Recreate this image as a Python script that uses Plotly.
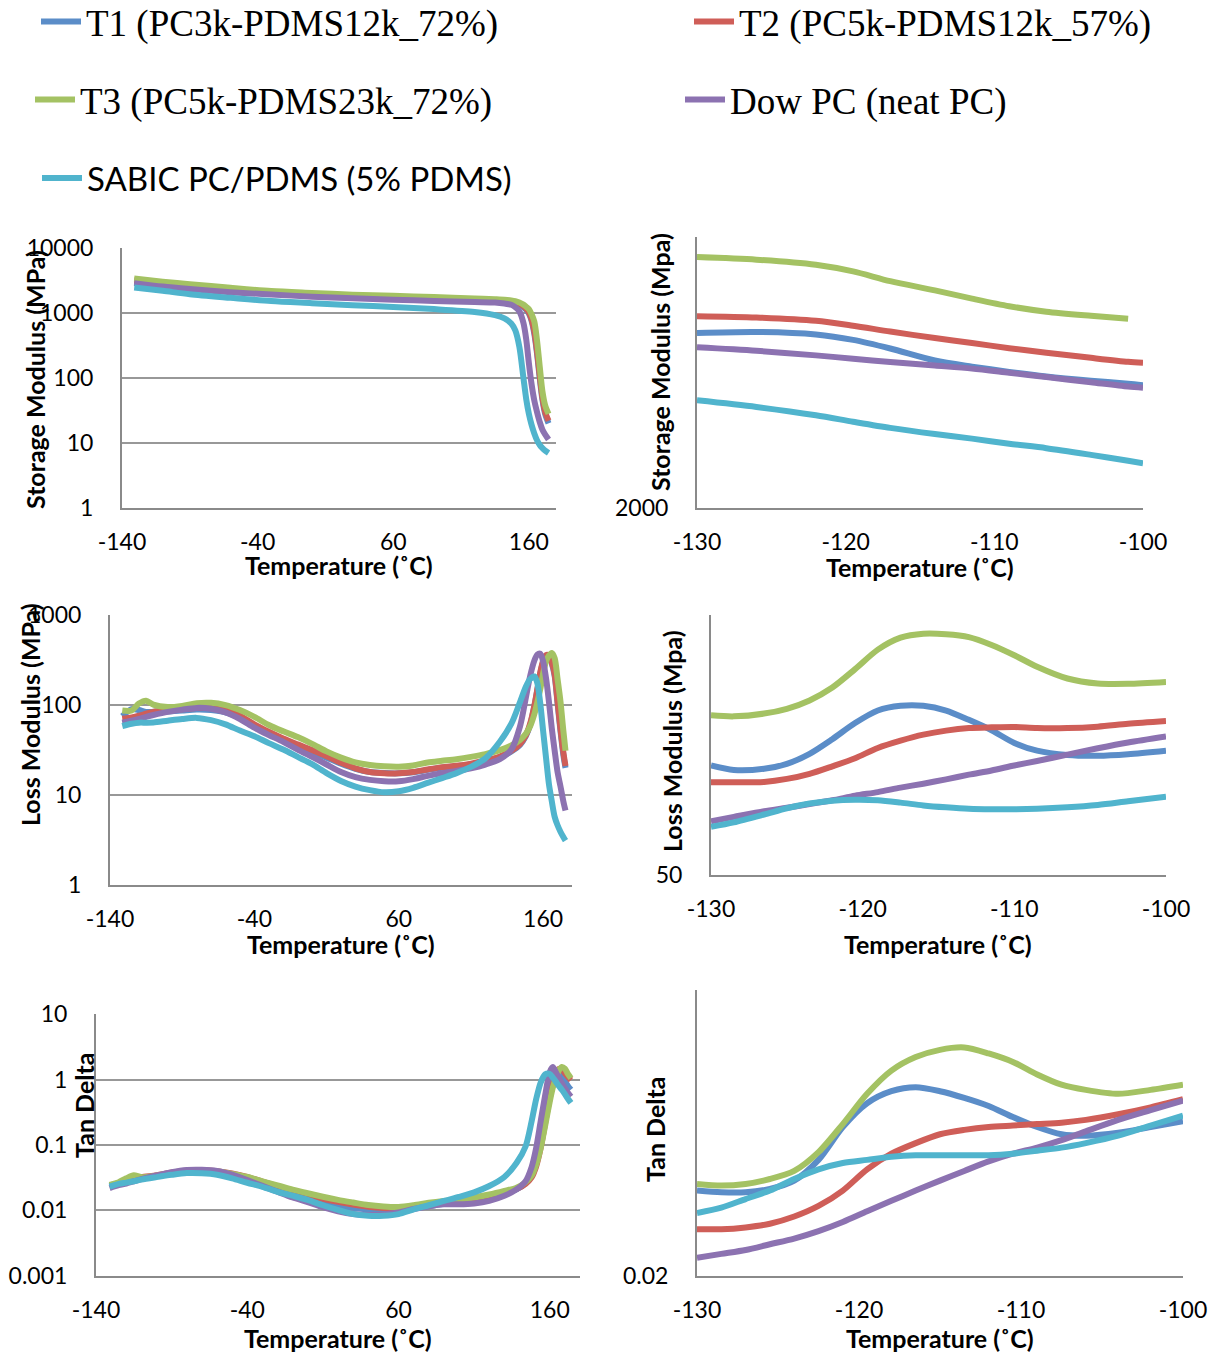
import plotly.graph_objects as go

# ---------------- samples ----------------
SAMPLE_NAMES = [
    "T1 (PC3k-PDMS12k_72%)",
    "T2 (PC5k-PDMS12k_57%)",
    "T3 (PC5k-PDMS23k_72%)",
    "Dow PC (neat PC)",
    "SABIC PC/PDMS (5% PDMS)",
]
SAMPLE_COLORS = ["#5B8DC8", "#CF5E58", "#A4C263", "#8C72B1", "#50B4CD"]
SAMPLE_LEGENDS = ["legend", "legend2", "legend3", "legend4", "legend5"]

# ---------------- storage modulus, full range (MPa) ----------------
storage_temp = [-131, -110, -90, -60, -30, 0, 30, 60, 90, 120, 135, 142, 147, 150,
                153, 156, 158, 160, 162, 164, 166, 168, 170, 172, 174.5]
storage_T1 = [3050, 2740, 2500, 2200, 1980, 1860, 1760, 1690, 1620, 1550, 1510, 1490, 1450, 1410,
              1340, 1230, 1120, 980, 760, 480, 240, 100, 46, 28, 20]
storage_T2 = [3200, 2880, 2650, 2350, 2100, 1960, 1850, 1770, 1690, 1610, 1570, 1540, 1500, 1460,
              1390, 1280, 1170, 1030, 800, 520, 260, 110, 50, 30, 22]
storage_T3 = [3400, 3050, 2790, 2450, 2180, 2040, 1920, 1840, 1760, 1680, 1630, 1600, 1560, 1520,
              1450, 1350, 1250, 1150, 960, 740, 380, 150, 62, 38, 28]
storage_dow = [2890, 2560, 2350, 2100, 1930, 1790, 1690, 1610, 1540, 1480, 1450, 1400, 1340, 1230,
               1060, 700, 400, 170, 80, 45, 30, 21, 16, 13.5, 11.3]
storage_sabic = [2470, 2200, 1950, 1720, 1530, 1420, 1320, 1240, 1150, 1040, 930, 830, 690, 540,
                 300, 100, 48, 28, 19, 14, 11, 9.3, 8.3, 7.6, 7.0]

# ---------------- storage modulus, -130..-100 C (MPa) ----------------
storage_zoom_temp = [-130, -126, -122, -119.5, -117, -114, -111.5, -109, -106.5, -103.5, -101, -100]
storage_zoom_T1 = [2871, 2877, 2862, 2830, 2780, 2712, 2678, 2649, 2624, 2601, 2585, 2577]
storage_zoom_T2 = [2972, 2964, 2944, 2914, 2879, 2841, 2812, 2782, 2756, 2727, 2705, 2700]
storage_zoom_T3 = [3358, 3340, 3305, 3260, 3195, 3135, 3082, 3034, 3000, 2975, 2957, None]
storage_zoom_dow = [2787, 2767, 2741, 2722, 2704, 2684, 2667, 2644, 2621, 2593, 2570, 2564]
storage_zoom_sabic = [2498, 2464, 2422, 2390, 2360, 2330, 2308, 2284, 2263, 2232, 2205, 2194]

# ---------------- loss modulus, full range (MPa) ----------------
loss_temp = [-131.5, -125, -120, -115, -110, -100, -90, -80, -70, -60, -50, -40, -30, -20, -10,
             0, 10, 20, 30, 40, 50, 60, 70, 80, 90, 100, 110, 120, 130, 138, 144, 148, 151,
             154, 156, 158, 160, 162, 164, 166, 168, 170, 172, 174, 175.5]
loss_T1 = [75, 90, 88, 84, 84, 85, 87, 89, 88, 83, 72, 58, 49, 41, 35,
           30, 26, 22.2, 19.5, 18, 17.5, 17.4, 17.9, 19, 20.1, 20.9, 21.8, 23.5, 26.3, 30.5, 36, 45, 60,
           98, 148, 225, 300, 350, 345, 290, 210, 105, 52, 28, 20]
loss_T2 = [70.5, 73, 76, 80, 84, 87, 90, 93, 93, 87, 76, 61, 50.5, 42.5, 36.5,
           31.5, 27, 22.8, 19.8, 18, 17.4, 17.4, 18, 19.2, 20.4, 21.1, 22.3, 24.2, 26.8, 31, 37, 46, 62,
           100, 150, 230, 310, 360, 355, 300, 217, 110, 55, 30, 21]
loss_T3 = [87, 87, 104, 112, 101, 95, 98, 105, 106, 100, 88, 74, 60, 51, 44,
           37, 30.5, 26, 23, 21.5, 20.8, 20.6, 21.3, 23, 24, 25, 26.5, 28.5, 31.5, 35.5, 41, 48, 58,
           80, 108, 150, 225, 305, 355, 380, 332, 195, 110, 52, 31]
loss_dow = [63.7, 67, 70, 74, 77.5, 84, 89, 93, 91, 83, 70, 56, 46.5, 39, 32,
            26.5, 21.8, 18, 15.8, 14.7, 14.2, 14.2, 15, 16.3, 17.5, 18.5, 19.8, 21.8, 25, 32, 58, 120, 210,
            315, 365, 372, 305, 200, 110, 55, 31, 18, 12.5, 8.5, 6.7]
loss_sabic = [58.5, 62, 63.7, 63.7, 64, 67, 70, 72, 68, 61, 52, 45, 37.7, 32, 26.5,
              22, 17.5, 14.3, 12.4, 11.3, 10.7, 11, 12, 13.6, 15.4, 17.5, 20.5, 25.5, 39, 62, 108, 160, 195,
              208, 175, 105, 51.5, 26, 13.3, 8.5, 5.7, 4.6, 3.9, 3.4, 3.1]

# ---------------- loss modulus, -130..-100 C (MPa) ----------------
loss_zoom_temp = [-130, -128.5, -126.5, -125, -123.5, -122, -120.5, -119, -117.5, -116, -114.5,
                  -113, -111.5, -110, -108.5, -106.5, -104.5, -102.5, -100]
loss_zoom_T1 = [72.3, 71.2, 71.5, 72.7, 75.2, 79, 83.4, 87, 88.4, 88.4, 87, 84.3, 81.4, 78, 76,
                74.9, 74.7, 75.1, 76]
loss_zoom_T2 = [68.3, 68.3, 68.4, 69.1, 70.3, 72.1, 74.1, 76.7, 78.6, 80.2, 81.3, 82, 82.2, 82.3, 82,
                82, 82.4, 83.2, 84]
loss_zoom_T3 = [85.6, 85.3, 86.1, 87.5, 90, 94, 100, 106.8, 111.2, 112.7, 112.5, 111.4, 108.5, 104.8,
                100.8, 96.9, 95.3, 95.2, 95.8]
loss_zoom_dow = [59.9, 60.8, 62, 62.7, 63.5, 64.3, 65.3, 66.1, 67.1, 68, 69, 70.1, 71.1, 72.3, 73.4,
                 75, 76.6, 78.1, 79.7]
loss_zoom_sabic = [58.8, 59.7, 61.3, 62.6, 63.6, 64.2, 64.4, 64.3, 63.8, 63.2, 62.8, 62.5, 62.4, 62.4,
                   62.5, 62.8, 63.3, 64.1, 65.1]

# ---------------- tan delta, full range ----------------
tan_temp = [-131, -125, -120, -115, -110, -100, -90, -80, -70, -60, -50, -40, -30, -20, -10, 0,
            10, 20, 30, 40, 50, 60, 70, 80, 90, 100, 110, 120, 130, 138, 144, 148, 151, 154, 157,
            160, 162, 164, 166, 168, 170, 172, 174]
tan_T1 = [0.0238, 0.026, 0.0285, 0.031, 0.031, 0.0335, 0.037, 0.0398, 0.0405, 0.0392, 0.0358, 0.0318,
          0.0267, 0.0225, 0.0188, 0.016, 0.0138, 0.0121, 0.011, 0.0103, 0.0100, 0.0101, 0.0107, 0.0116,
          0.0126, 0.0134, 0.0144, 0.016, 0.0183, 0.021, 0.026, 0.034, 0.052, 0.105, 0.28, 0.68, 1.0,
          1.32, 1.4, 1.2, 0.95, 0.8, 0.7]
tan_T2 = [0.0243, 0.0262, 0.0282, 0.0305, 0.0322, 0.0345, 0.038, 0.0405, 0.041, 0.0398, 0.0368, 0.0326,
          0.0275, 0.0234, 0.0198, 0.017, 0.015, 0.0135, 0.0123, 0.0114, 0.0109, 0.0108, 0.0113, 0.0122,
          0.0131, 0.0139, 0.015, 0.0166, 0.0188, 0.0212, 0.0255, 0.032, 0.047, 0.09, 0.22, 0.52, 0.85,
          1.2, 1.45, 1.42, 1.25, 1.1, 0.98]
tan_T3 = [0.0245, 0.027, 0.031, 0.0345, 0.0322, 0.034, 0.0373, 0.0398, 0.0404, 0.0393, 0.0362, 0.0325,
          0.0278, 0.0241, 0.0208, 0.0183, 0.0162, 0.0145, 0.0132, 0.0121, 0.0115, 0.0113, 0.012, 0.0131,
          0.014, 0.0147, 0.0158, 0.0175, 0.0199, 0.0223, 0.027, 0.034, 0.05, 0.09, 0.2, 0.46, 0.75,
          1.05, 1.38, 1.56, 1.47, 1.22, 1.05]
tan_dow = [0.022, 0.0243, 0.0258, 0.0279, 0.030, 0.0342, 0.0385, 0.0415, 0.0418, 0.0402, 0.0352, 0.029,
           0.0237, 0.0193, 0.0158, 0.0134, 0.0112, 0.0097, 0.0088, 0.0085, 0.0087, 0.0093, 0.0105, 0.0116,
           0.0124, 0.0124, 0.0128, 0.014, 0.0167, 0.021, 0.028, 0.046, 0.09, 0.23, 0.58, 1.3, 1.55,
           1.3, 1.05, 0.87, 0.73, 0.63, 0.55]
tan_sabic = [0.0232, 0.0255, 0.0266, 0.0279, 0.0296, 0.0323, 0.035, 0.0372, 0.037, 0.0352, 0.031, 0.0265,
             0.023, 0.0193, 0.0168, 0.0145, 0.012, 0.0102, 0.0088, 0.0083, 0.0083, 0.0088, 0.0104, 0.012,
             0.014, 0.0161, 0.0189, 0.0236, 0.0325, 0.053, 0.095, 0.23, 0.5, 0.9, 1.2, 1.22, 1.07,
             0.93, 0.8, 0.7, 0.6, 0.51, 0.44]

# ---------------- tan delta, -130..-100 C ----------------
tan_zoom_temp = [-130, -128.5, -127, -125.5, -124, -122.5, -121, -119.5, -118, -116.5, -115, -113.5,
                 -112, -110.5, -109, -107.5, -106, -104, -102, -100]
tan_zoom_T1 = [0.0246, 0.0245, 0.0245, 0.0247, 0.0252, 0.0265, 0.0287, 0.0304, 0.0313, 0.0316, 0.0313,
               0.0308, 0.0302, 0.0294, 0.0287, 0.0282, 0.0281, 0.0283, 0.0287, 0.0291]
tan_zoom_T2 = [0.0224, 0.0224, 0.0225, 0.0227, 0.0231, 0.0237, 0.0246, 0.0259, 0.0269, 0.0276, 0.0282,
               0.0285, 0.0287, 0.0288, 0.0289, 0.0290, 0.0292, 0.0296, 0.0301, 0.0307]
tan_zoom_T3 = [0.0250, 0.0249, 0.0250, 0.0253, 0.0258, 0.0270, 0.0289, 0.0311, 0.0329, 0.0340, 0.0346,
               0.0348, 0.0343, 0.0336, 0.0326, 0.0318, 0.0314, 0.0311, 0.0314, 0.0318]
tan_zoom_dow = [0.0209, 0.0211, 0.0213, 0.0216, 0.0219, 0.0223, 0.0228, 0.0234, 0.0240, 0.0246, 0.0252,
                0.0258, 0.0264, 0.0269, 0.0273, 0.0278, 0.0284, 0.0292, 0.0299, 0.0306]
tan_zoom_sabic = [0.0233, 0.0236, 0.0241, 0.0246, 0.0253, 0.0259, 0.0263, 0.0265, 0.0267, 0.0268, 0.0268,
                  0.0268, 0.0268, 0.0269, 0.0271, 0.0273, 0.0276, 0.0281, 0.0288, 0.0295]

# tick values of the temperature axes
full_temp_ticks = [-140, -40, 60, 160]
zoom_temp_ticks = [-130, -120, -110, -100]

# ---------------- figure layout ----------------
W, H = 1213, 1352
GRID = "#989898"
AXIS = "#8A8A8A"
TICK_FONT = dict(family="Lato", size=23, color="black")
TITLE_FONT = dict(family="Lato", size=25, color="black", weight="bold")


def xdom(left, right):
    return [left / W, right / W]


def ydom(top, bottom):
    return [1 - bottom / H, 1 - top / H]


# each panel: (suffix, temps, series, x-range, y-range(log10), box px, full-range?, y ticks)
panels = [
    ("", storage_temp, [storage_T1, storage_T2, storage_T3, storage_dow, storage_sabic],
     [-140, 180], [0, 4], (122, 556, 248, 508), True, [1, 10, 100, 1000, 10000]),
    ("2", storage_zoom_temp, [storage_zoom_T1, storage_zoom_T2, storage_zoom_T3, storage_zoom_dow,
                              storage_zoom_sabic],
     [-130, -100], [3.30103, 3.544068], (697, 1143, 237, 508), False, [2000]),
    ("3", loss_temp, [loss_T1, loss_T2, loss_T3, loss_dow, loss_sabic],
     [-140, 180], [0, 3], (110, 572, 615, 885), True, [1, 10, 100, 1000]),
    ("4", loss_zoom_temp, [loss_zoom_T1, loss_zoom_T2, loss_zoom_T3, loss_zoom_dow, loss_zoom_sabic],
     [-130, -100], [1.69897, 2.079181], (711, 1166, 615, 875), False, [50]),
    ("5", tan_temp, [tan_T1, tan_T2, tan_T3, tan_dow, tan_sabic],
     [-140, 180], [-3, 1], (96, 580, 1014, 1276), True, [0.001, 0.01, 0.1, 1, 10]),
    ("6", tan_zoom_temp, [tan_zoom_T1, tan_zoom_T2, tan_zoom_T3, tan_zoom_dow, tan_zoom_sabic],
     [-130, -100], [-1.69897, -1.39794], (697, 1183, 990, 1276), False, [0.02]),
]

fig = go.Figure()
layout_axes = {}

for idx, (suf, temps, series, xr, yr, box, full, yticks) in enumerate(panels):
    for j, vals in enumerate(series):
        fig.add_trace(go.Scatter(
            x=temps, y=vals, mode="lines", name=SAMPLE_NAMES[j],
            xaxis="x" + suf, yaxis="y" + suf,
            line=dict(color=SAMPLE_COLORS[j], width=6, shape="spline", smoothing=0.8),
            showlegend=(idx == 0), legend=SAMPLE_LEGENDS[j],
            hoverinfo="skip",
        ))
    left, right, top, bottom = box
    pad = 0.002 if full else 0
    xticks = full_temp_ticks if full else zoom_temp_ticks
    layout_axes["xaxis" + suf] = dict(
        domain=xdom(left, right), anchor="y" + suf, range=xr,
        tickvals=xticks, ticktext=[str(v) for v in xticks],
        showgrid=False, zeroline=False, showline=True, linecolor=AXIS, linewidth=2,
        ticks="", ticklabelstandoff=12, tickfont=TICK_FONT, automargin=False,
    )
    layout_axes["yaxis" + suf] = dict(
        domain=ydom(top, bottom), anchor="x" + suf, type="log",
        range=[yr[0] - pad, yr[1] + pad],
        tickvals=yticks, ticktext=[("%g" % v) for v in yticks],
        showgrid=full, gridcolor=GRID, gridwidth=2,
        zeroline=False, showline=True, linecolor=AXIS, linewidth=2,
        ticks="", ticklabelstandoff=22, tickfont=TICK_FONT, automargin=False,
    )

# axis titles
x_titles = [(339, 565), (920, 567), (341, 944), (938, 944), (338, 1338), (940, 1338)]
y_titles = [("Storage Modulus (MPa)", 35, 380), ("Storage Modulus (Mpa)", 660, 362),
            ("Loss Modulus (MPa)", 30, 715), ("Loss Modulus (Mpa)", 672, 741),
            ("Tan Delta", 84, 1105), ("Tan Delta", 655, 1129)]
annotations = []
for (cx, cy) in x_titles:
    annotations.append(dict(text="Temperature (˚C)", x=cx / W, y=1 - cy / H, xref="paper", yref="paper",
                            xanchor="center", yanchor="middle", showarrow=False, font=TITLE_FONT))
for (txt, cx, cy) in y_titles:
    annotations.append(dict(text=txt, x=cx / W, y=1 - cy / H, xref="paper", yref="paper",
                            xanchor="center", yanchor="middle", textangle=-90, showarrow=False,
                            font=TITLE_FONT))

serif_legend = dict(family="Liberation Serif", size=37, color="black")
sans_legend = dict(family="Lato", size=33, color="black")


def one_legend(px, py, font):
    return dict(x=px / W, y=1 - py / H, xanchor="left", yanchor="middle", orientation="v",
                bgcolor="rgba(0,0,0,0)", font=font, itemwidth=40,
                itemclick=False, itemdoubleclick=False)


fig.update_layout(
    width=W, height=H, autosize=False,
    margin=dict(l=0, r=0, t=0, b=0, pad=0, autoexpand=False),
    paper_bgcolor="white", plot_bgcolor="white",
    annotations=annotations,
    legend=one_legend(36, 22, serif_legend),
    legend2=one_legend(689, 22, serif_legend),
    legend3=one_legend(30, 100, serif_legend),
    legend4=one_legend(680, 100, serif_legend),
    legend5=one_legend(37, 178, sans_legend),
    **layout_axes,
)

fig.write_html("out.html")
